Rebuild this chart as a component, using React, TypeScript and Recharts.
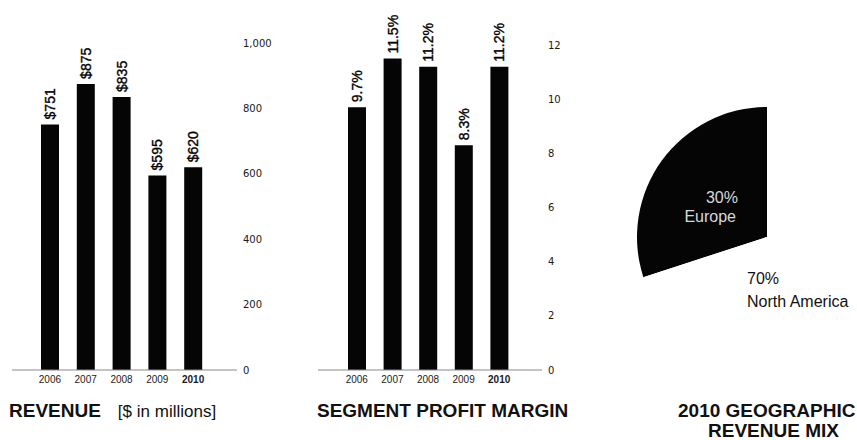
import React from 'react';
import { BarChart, Bar, XAxis, YAxis, LabelList, PieChart, Pie, Cell } from 'recharts';

const years = ['2006', '2007', '2008', '2009', '2010'];
const revenue = [751, 875, 835, 595, 620];
const revenueLabels = ['$751', '$875', '$835', '$595', '$620'];
const profitMargin = [9.7, 11.5, 11.2, 8.3, 11.2];
const profitLabels = ['9.7%', '11.5%', '11.2%', '8.3%', '11.2%'];
const revenueTicks = [0, 200, 400, 600, 800, 1000];
const marginTicks = [0, 2, 4, 6, 8, 10, 12];
const regions = ['Europe', 'North America'];
const regionShares = [30, 70];
const regionLabels = ['30%', '70%'];
const regionColors = ['#050505', '#ffffff'];

const revenueData = years.map((y, i) => ({ year: y, value: revenue[i], label: revenueLabels[i] }));
const marginData = years.map((y, i) => ({ year: y, value: profitMargin[i], label: profitLabels[i] }));
const pieData = regions.map((r, i) => ({ name: r, value: regionShares[i], label: regionLabels[i] }));

const SANS = '"Liberation Sans", Arial, sans-serif';
const DEJA = '"DejaVu Sans", sans-serif';

const YearTick = (props: any) => {
  const { x, y, payload } = props;
  const bold = payload.value === '2010';
  return (
    <text x={x} y={y} dy="0.71em" textAnchor="middle" fontSize={10} fontFamily={SANS}
      fontWeight={bold ? 700 : 400} fill="#1a1a1a">
      {payload.value}
    </text>
  );
};

const ValueTick = (props: any) => {
  const { x, y, payload, fmt } = props;
  return (
    <text x={x} y={y} dy="0.355em" textAnchor="start" fontSize={10} fontFamily={DEJA} fill="#1a1a1a">
      {fmt(payload.value)}
    </text>
  );
};

const RotLabel = (props: any) => {
  const x = Number(props.x);
  const y = Number(props.y);
  const w = Number(props.width);
  const cx = x + w / 2;
  const ty = y - 5;
  return (
    <text x={cx} y={ty} transform={`rotate(-90 ${cx} ${ty})`} textAnchor="start" dominantBaseline="central"
      fontSize={14} fontWeight={400} fontFamily={SANS} fill="#000" stroke="#000" strokeWidth={0.35}>
      {props.value}
    </text>
  );
};

const renderPieLabel = (props: any) => {
  const { cx, cy, index } = props;
  const d = pieData[index];
  if (index === 0) {
    return (
      <g>
        <text x={cx - 29} y={cy - 34} textAnchor="end" fontSize={16} fontFamily={SANS} fill="#d8d8d8">{d.label}</text>
        <text x={cx - 31} y={cy - 15} textAnchor="end" fontSize={16} fontFamily={SANS} fill="#d8d8d8">{d.name}</text>
      </g>
    );
  }
  return (
    <g>
      <text x={cx - 20} y={cy + 47} textAnchor="start" fontSize={16} fontFamily={SANS} fill="#111">{d.label}</text>
      <text x={cx - 20} y={cy + 70} textAnchor="start" fontSize={16} fontFamily={SANS} fill="#111">{d.name}</text>
    </g>
  );
};

const titleStyle: React.CSSProperties = {
  position: 'absolute',
  fontFamily: SANS,
  fontWeight: 700,
  fontSize: 19,
  lineHeight: '19px',
  color: '#111',
  whiteSpace: 'nowrap',
};

export default function App() {
  return (
    <div style={{ position: 'absolute', left: 0, top: 0, width: 857, height: 440, background: '#fff', overflow: 'hidden' }}>
      <div style={{ position: 'absolute', left: 0, top: 0 }}>
        <BarChart width={300} height={400} data={revenueData} margin={{ top: 43, right: 13, left: 12, bottom: 0 }}>
          <XAxis dataKey="year" height={30} tickLine={false} axisLine={{ stroke: '#8a8a8a', strokeWidth: 1.2 }}
            tick={<YearTick />} tickSize={0} tickMargin={6} padding={{ left: 20, right: 26 }} interval={0} />
          <YAxis orientation="right" width={50} domain={[0, 1000]} ticks={revenueTicks} axisLine={false} tickLine={false}
            tickSize={0} tickMargin={6} tick={<ValueTick fmt={(v: number) => v.toLocaleString('en-US')} />} />
          <Bar dataKey="value" fill="#050505" barSize={18} isAnimationActive={false}>
            <LabelList dataKey="label" content={RotLabel} />
          </Bar>
        </BarChart>
      </div>
      <div style={{ position: 'absolute', left: 300, top: 0 }}>
        <BarChart width={300} height={400} data={marginData} margin={{ top: 45, right: 8, left: 18, bottom: 0 }}>
          <XAxis dataKey="year" height={30} tickLine={false} axisLine={{ stroke: '#8a8a8a', strokeWidth: 1.2 }}
            tick={<YearTick />} tickSize={0} tickMargin={6} padding={{ left: 21, right: 25 }} interval={0} />
          <YAxis orientation="right" width={50} domain={[0, 12]} ticks={marginTicks} axisLine={false} tickLine={false}
            tickSize={0} tickMargin={6} tick={<ValueTick fmt={(v: number) => String(v)} />} />
          <Bar dataKey="value" fill="#050505" barSize={18} isAnimationActive={false}>
            <LabelList dataKey="label" content={RotLabel} />
          </Bar>
        </BarChart>
      </div>
      <div style={{ position: 'absolute', left: 600, top: 0 }}>
        <PieChart width={257} height={440} margin={{ top: 0, right: 0, bottom: 0, left: 0 }}>
          <Pie data={pieData} dataKey="value" nameKey="name" cx={167} cy={237} outerRadius={130}
            startAngle={90} endAngle={450} stroke="none" isAnimationActive={false}
            label={renderPieLabel} labelLine={false}>
            {pieData.map((d, i) => (
              <Cell key={d.name} fill={regionColors[i]} />
            ))}
          </Pie>
        </PieChart>
      </div>
      <div style={{ ...titleStyle, left: 9, top: 401 }}>
        REVENUE
        <span style={{ fontWeight: 400, fontSize: 17, marginLeft: 17 }}>[$ in millions]</span>
      </div>
      <div style={{ ...titleStyle, left: 317, top: 401 }}>SEGMENT PROFIT MARGIN</div>
      <div style={{ ...titleStyle, left: 678, top: 401 }}>2010 GEOGRAPHIC</div>
      <div style={{ ...titleStyle, left: 708, top: 421 }}>REVENUE MIX</div>
    </div>
  );
}
